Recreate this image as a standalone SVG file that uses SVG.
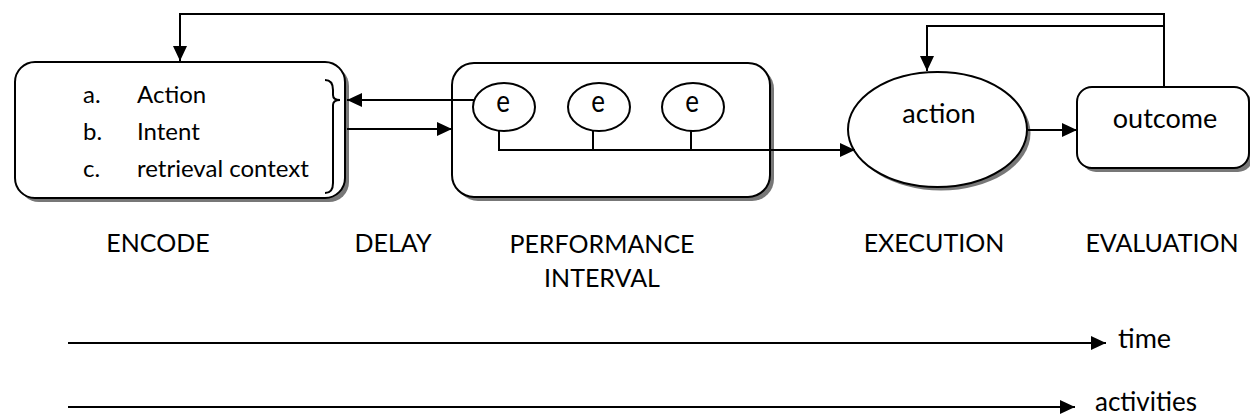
<svg xmlns="http://www.w3.org/2000/svg" width="1250" height="417" viewBox="0 0 1250 417">
<style>
text{font-family:Lato,"Open Sans",sans-serif;fill:#000}
.box{fill:#fff;stroke:#000;stroke-width:2}
.sh{fill:#777;stroke:none}
.ln{fill:none;stroke:#000;stroke-width:2}
.item{font-size:24px}
.lbl{font-size:25px;text-anchor:middle}
.mid{text-anchor:middle}
.big{font-size:27px}
</style>
<defs>
<marker id="ah" markerWidth="16" markerHeight="14" refX="15" refY="7" orient="auto" markerUnits="userSpaceOnUse">
<path d="M0,0 L15,7 L0,14 Z" fill="#000"/>
</marker>
</defs>
<g id="encode">
<rect class="sh" x="19" y="66" width="330" height="136" rx="20"/>
<rect class="box" x="15" y="62" width="330" height="136" rx="20"/>
<path class="ln" d="M325,80 Q333,80 333,90 V95 Q333,100 340,100 Q333,100 333,105 V183 Q333,193 325,193" stroke-width="1.5"/>
<text class="item" x="83" y="103">a.</text><text class="item" x="137" y="103">Action</text>
<text class="item" x="83" y="140">b.</text><text class="item" x="137" y="140">Intent</text>
<text class="item" x="83" y="177">c.</text><text class="item" x="137" y="177">retrieval context</text>
</g>
<g id="performance">
<rect class="sh" x="456" y="67" width="318" height="134" rx="22"/>
<rect class="box" x="452" y="63" width="318" height="134" rx="22"/>
</g>
<g id="e1"><ellipse class="box" cx="504" cy="107" rx="31" ry="24"/><text class="mid" transform="translate(503,112) scale(1,1.2)" font-size="26">e</text></g>
<g id="e2"><ellipse class="box" cx="599" cy="107" rx="31" ry="24"/><text class="mid" transform="translate(598,112) scale(1,1.2)" font-size="26">e</text></g>
<g id="e3"><ellipse class="box" cx="693" cy="107" rx="31" ry="24"/><text class="mid" transform="translate(692,112) scale(1,1.2)" font-size="26">e</text></g>
<g id="action">
<ellipse class="sh" cx="941" cy="133" rx="89.5" ry="57.5"/>
<ellipse class="box" cx="937.5" cy="129.5" rx="89.5" ry="57.5"/>
<text class="mid big" x="939" y="123">action</text>
</g>
<g id="outcome">
<rect class="sh" x="1081" y="91" width="172" height="81" rx="15"/>
<rect class="box" x="1077" y="87" width="172" height="81" rx="15"/>
<text class="mid big" x="1165" y="128">outcome</text>
</g>
<g id="connectors">
<path class="ln" d="M1164,87 V14 H180 V61" marker-end="url(#ah)"/>
<path class="ln" d="M1164,26 H927 V71" marker-end="url(#ah)"/>
<path class="ln" d="M474,100 H347" marker-end="url(#ah)"/>
<path class="ln" d="M347,129 H452" marker-end="url(#ah)"/>
<path class="ln" d="M499,131 V150 H855" marker-end="url(#ah)"/>
<path class="ln" d="M593,131 V150"/>
<path class="ln" d="M691,131 V150"/>
<path class="ln" d="M1028,130 H1077" marker-end="url(#ah)"/>
<path class="ln" d="M68,343 H1106" marker-end="url(#ah)"/>
<path class="ln" d="M68,407 H1075" marker-end="url(#ah)"/>
</g>
<g id="labels">
<text class="lbl" x="158" y="252">ENCODE</text>
<text class="lbl" x="393" y="252">DELAY</text>
<text class="lbl" x="602" y="253">PERFORMANCE</text>
<text class="lbl" x="602" y="287">INTERVAL</text>
<text class="lbl" x="934" y="252">EXECUTION</text>
<text class="lbl" x="1162" y="252">EVALUATION</text>
<text class="big" x="1118" y="348">time</text>
<text x="1095" y="411" font-size="26">activities</text>
</g>
</svg>
